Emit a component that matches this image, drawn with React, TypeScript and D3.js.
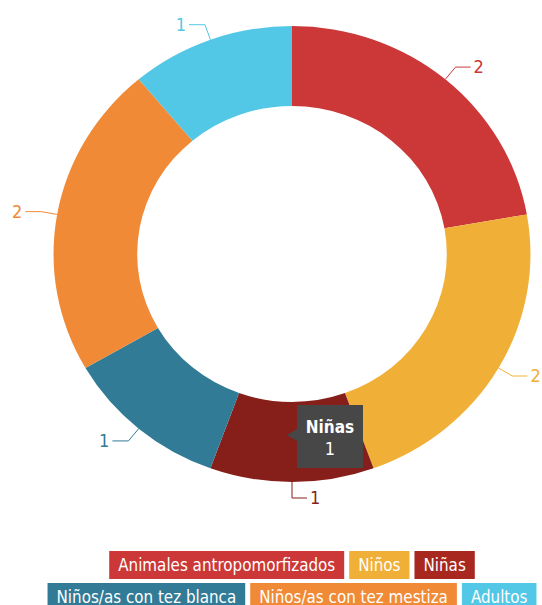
import React, { useEffect, useRef } from "react";
import * as d3 from "d3";

const categories = [
  "Animales antropomorfizados",
  "Niños",
  "Niñas",
  "Niños/as con tez blanca",
  "Niños/as con tez mestiza",
  "Adultos",
];
const values = [2, 2, 1, 1, 2, 1];
const sliceColors = ["#CC3737", "#F0B037", "#861F1A", "#317B96", "#F08A37", "#53C8E6"];
const legendColors = ["#CC3737", "#F0B037", "#A8271F", "#317B96", "#F08A37", "#53C8E6"];
const tooltipIndex = 2;

const W = 542;
const H = 605;
const FONT = "'DejaVu Sans Condensed', 'Liberation Sans Narrow', sans-serif";

export default function App() {
  const ref = useRef<SVGSVGElement | null>(null);

  useEffect(() => {
    const svg = d3.select(ref.current);
    svg.selectAll("*").remove();

    const cx = 292;
    const cy = 254;
    const outerR = 228;
    const innerR = 148;
    const sx = 1.046;

    const data = categories.map((c, i) => ({ name: c, value: values[i], i }));
    const pie = d3
      .pie<any>()
      .sort(null)
      .value((d: any) => d.value)
      .startAngle(0)
      .endAngle(2 * Math.PI);
    const arcs = pie(data);
    const arc = d3.arc<any>().innerRadius(innerR).outerRadius(outerR);

    const g = svg.append("g").attr("transform", `translate(${cx},${cy}) scale(${sx},1)`);
    g.selectAll("path.slice")
      .data(arcs)
      .enter()
      .append("path")
      .attr("class", "slice")
      .attr("d", arc as any)
      .attr("fill", (d: any) => sliceColors[d.data.i])
      .attr("stroke", "none");

    // data labels with connectors
    const lab = svg.append("g");
    arcs.forEach((a: any) => {
      const mid = (a.startAngle + a.endAngle) / 2;
      const s = Math.sin(mid);
      const c = -Math.cos(mid);
      const x0 = cx + sx * outerR * s;
      const y0 = cy + outerR * c;
      const ext = 16;
      const x1 = x0 + ext * s;
      const y1 = y0 + ext * c;
      const right = s >= -1e-6;
      const x2 = x1 + (right ? 15 : -16);
      const col = sliceColors[a.data.i];
      lab
        .append("path")
        .attr("d", `M${x0},${y0}L${x1},${y1}L${x2},${y1}`)
        .attr("fill", "none")
        .attr("stroke", col)
        .attr("stroke-width", 1);
      lab
        .append("text")
        .attr("x", x2 + (right ? 3 : -3))
        .attr("y", y1 + 6)
        .attr("text-anchor", right ? "start" : "end")
        .attr("fill", col)
        .style("font-family", FONT)
        .style("font-size", "18px")
        .text(String(a.data.value));
    });

    // legend
    const leg = svg.append("g");
    const padL = 9;
    const padR = 9;
    const gap = 5;
    const rowH = 28;
    const maxW = 530;
    const squeeze = 0.935;
    const items = data.map((d) => {
      const t = leg
        .append("text")
        .attr("fill", "#ffffff")
        .style("font-family", FONT)
        .style("font-size", "18px")
        .text(d.name);
      const raw = (t.node() as SVGTextElement).getComputedTextLength();
      const tw = raw * squeeze;
      t.attr("textLength", tw).attr("lengthAdjust", "spacingAndGlyphs");
      return { d, t, w: tw + padL + padR };
    });
    const rows: any[][] = [];
    let cur: any[] = [];
    let curW = 0;
    items.forEach((it) => {
      const add = cur.length ? gap + it.w : it.w;
      if (cur.length && curW + add > maxW) {
        rows.push(cur);
        cur = [it];
        curW = it.w;
      } else {
        cur.push(it);
        curW += add;
      }
    });
    if (cur.length) rows.push(cur);
    const top0 = 551;
    rows.forEach((row, r) => {
      const total = row.reduce((s: number, it: any) => s + it.w, 0) + gap * (row.length - 1);
      let x = cx - total / 2;
      const y = top0 + r * (rowH + 4);
      row.forEach((it: any) => {
        leg
          .insert("rect", "text")
          .attr("x", x)
          .attr("y", y)
          .attr("width", it.w)
          .attr("height", rowH)
          .attr("fill", legendColors[it.d.i]);
        it.t.attr("x", x + padL).attr("y", y + 20);
        x += it.w + gap;
      });
    });

    // tooltip
    const a = arcs[tooltipIndex];
    const tip = svg.append("g");
    const bx = 297,
      by = 405,
      bw = 66,
      bh = 63;
    tip
      .append("path")
      .attr(
        "d",
        `M${bx},${by}H${bx + bw}V${by + bh}H${bx}V${by + 36}L${bx - 10},${by + 30}L${bx},${by + 24}Z`
      )
      .attr("fill", "#474747");
    tip
      .append("text")
      .attr("x", bx + bw / 2)
      .attr("y", by + 28)
      .attr("text-anchor", "middle")
      .attr("fill", "#fff")
      .style("font-family", FONT)
      .style("font-weight", "bold")
      .style("font-size", "17px")
      .text(a.data.name);
    tip
      .append("text")
      .attr("x", bx + bw / 2)
      .attr("y", by + 50)
      .attr("text-anchor", "middle")
      .attr("fill", "#fff")
      .style("font-family", FONT)
      .style("font-size", "18px")
      .text(String(a.data.value));
  }, []);

  return (
    <svg
      ref={ref}
      width={W}
      height={H}
      style={{ position: "absolute", left: 0, top: 0, display: "block" }}
    />
  );
}
